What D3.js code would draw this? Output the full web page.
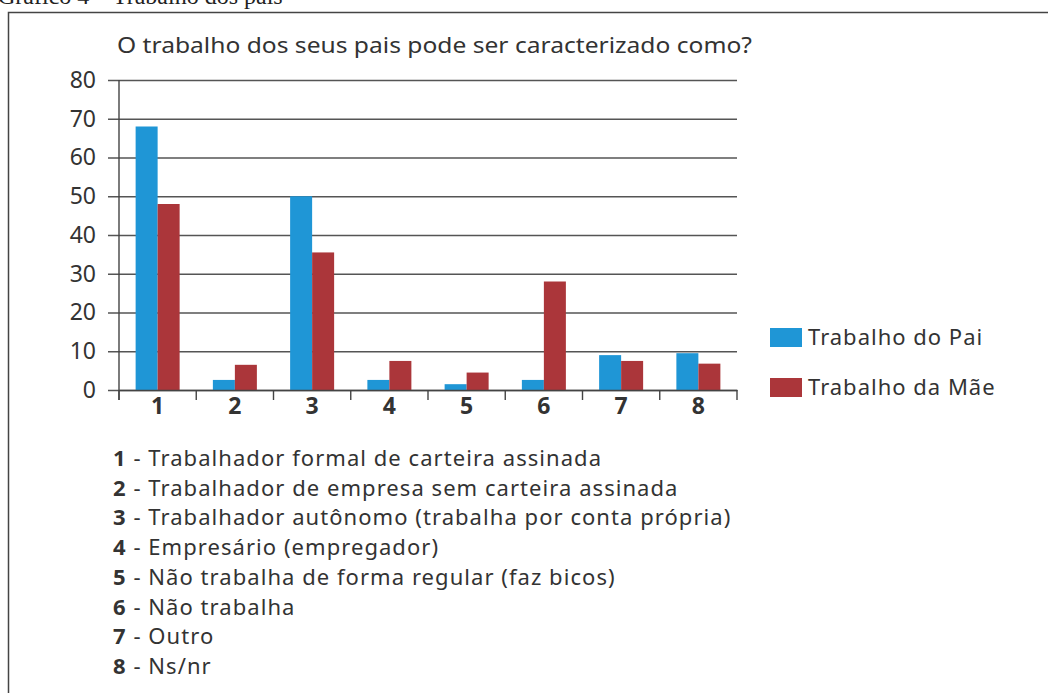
<!DOCTYPE html>
<html>
<head>
<meta charset="utf-8">
<script src="https://cdn.jsdelivr.net/npm/d3@7"></script>
<style>
  body { margin: 0; background: #fff; }
  svg { display: block; font-family: "Noto Sans", sans-serif; }
</style>
</head>
<body>
<svg width="1048" height="693"></svg>
<script>
const categories = ['1', '2', '3', '4', '5', '6', '7', '8'];
const seriesNames = ['Trabalho do Pai', 'Trabalho da Mãe'];
const pai = [68, 2.6, 50, 2.6, 1.5, 2.6, 9, 9.5];
const mae = [48, 6.5, 35.5, 7.5, 4.5, 28, 7.5, 6.8];
const yTicks = [0, 10, 20, 30, 40, 50, 60, 70, 80];
const notes = [
  'Trabalhador formal de carteira assinada',
  'Trabalhador de empresa sem carteira assinada',
  'Trabalhador autônomo (trabalha por conta própria)',
  'Empresário (empregador)',
  'Não trabalha de forma regular (faz bicos)',
  'Não trabalha',
  'Outro',
  'Ns/nr'
];
const colors = ['#1f96d6', '#ab363a'];

const svg = d3.select('svg');
const textColor = '#333';

// header cut at top + frame
svg.append('text').attr('x', -2).attr('y', 4)
  .attr('font-family', '"Liberation Serif", serif').attr('font-size', 24).attr('fill', '#222')
  .text('Gráfico 4 – Trabalho dos pais');
svg.append('path').attr('d', 'M8.5,700 V12.5 H1048')
  .attr('fill', 'none').attr('stroke', '#444').attr('stroke-width', 1.5);

svg.append('text').attr('x', 117).attr('y', 53)
  .attr('font-size', 21).attr('fill', textColor)
  .attr('textLength', 635).attr('lengthAdjust', 'spacingAndGlyphs')
  .text('O trabalho dos seus pais pode ser caracterizado como?');

const margin = { left: 119, top: 80, right: 737, bottom: 390 };

const x = d3.scaleBand().domain(categories).range([margin.left, margin.right]).padding(0);
const inner = d3.scaleBand().domain([0, 1]).range([x.bandwidth() / 2 - 22, x.bandwidth() / 2 + 22]);
const y = d3.scaleLinear().domain([0, 80]).range([margin.bottom, margin.top]);

// grid + y labels
const yAxis = svg.append('g').attr('transform', `translate(${margin.left},0)`)
  .call(d3.axisLeft(y).tickValues(yTicks).tickSizeInner(-(margin.right - margin.left)).tickSizeOuter(0));
yAxis.select('.domain').remove();
yAxis.selectAll('.tick line').attr('stroke', '#555').attr('stroke-width', 1.4).attr('x1', -11);
yAxis.selectAll('.tick text').attr('font-size', 23).attr('fill', textColor)
  .attr('font-family', '"Noto Sans", sans-serif').attr('x', -23);

svg.append('line').attr('x1', margin.left).attr('x2', margin.left)
  .attr('y1', margin.top).attr('y2', margin.bottom + 10)
  .attr('stroke', '#444').attr('stroke-width', 1.4);

// bars
const groups = svg.append('g').selectAll('g').data(categories).join('g')
  .attr('transform', d => `translate(${x(d)},0)`);
groups.selectAll('rect')
  .data((d, i) => [pai[i], mae[i]])
  .join('rect')
  .attr('x', (d, j) => inner(j))
  .attr('width', inner.bandwidth())
  .attr('y', d => y(d))
  .attr('height', d => y(0) - y(d))
  .attr('fill', (d, j) => colors[j]);

// x axis
const xAxis = svg.append('g').attr('transform', `translate(0,${margin.bottom})`)
  .call(d3.axisBottom(x).tickSize(0).tickPadding(8));
xAxis.select('.domain').attr('stroke', '#444').attr('stroke-width', 1.6);
xAxis.selectAll('.tick text').attr('font-size', 23).attr('font-weight', 'bold')
  .attr('fill', textColor).attr('font-family', '"Noto Sans", sans-serif');
svg.append('g').selectAll('line').data(categories.concat(['end'])).join('line')
  .attr('x1', (d, i) => margin.left + i * x.step())
  .attr('x2', (d, i) => margin.left + i * x.step())
  .attr('y1', margin.bottom).attr('y2', margin.bottom + 10)
  .attr('stroke', '#444').attr('stroke-width', 1.4);

// legend
const legend = svg.append('g').selectAll('g').data(seriesNames).join('g')
  .attr('transform', (d, i) => `translate(770,${328 + i * 50})`);
legend.append('rect').attr('width', 32).attr('height', 19).attr('fill', (d, i) => colors[i]);
legend.append('text').attr('x', 38).attr('y', 17).attr('font-size', 22)
  .attr('letter-spacing', 1).attr('fill', textColor).text(d => d);

// footnotes
const nt = svg.append('g').selectAll('text').data(notes).join('text')
  .attr('x', 113).attr('y', (d, i) => 466 + i * 29.7)
  .attr('font-size', 22).attr('letter-spacing', 1.05).attr('fill', textColor);
nt.append('tspan').attr('font-weight', 'bold').text((d, i) => categories[i]);
nt.append('tspan').text(d => ' - ' + d);
</script>
</body>
</html>
